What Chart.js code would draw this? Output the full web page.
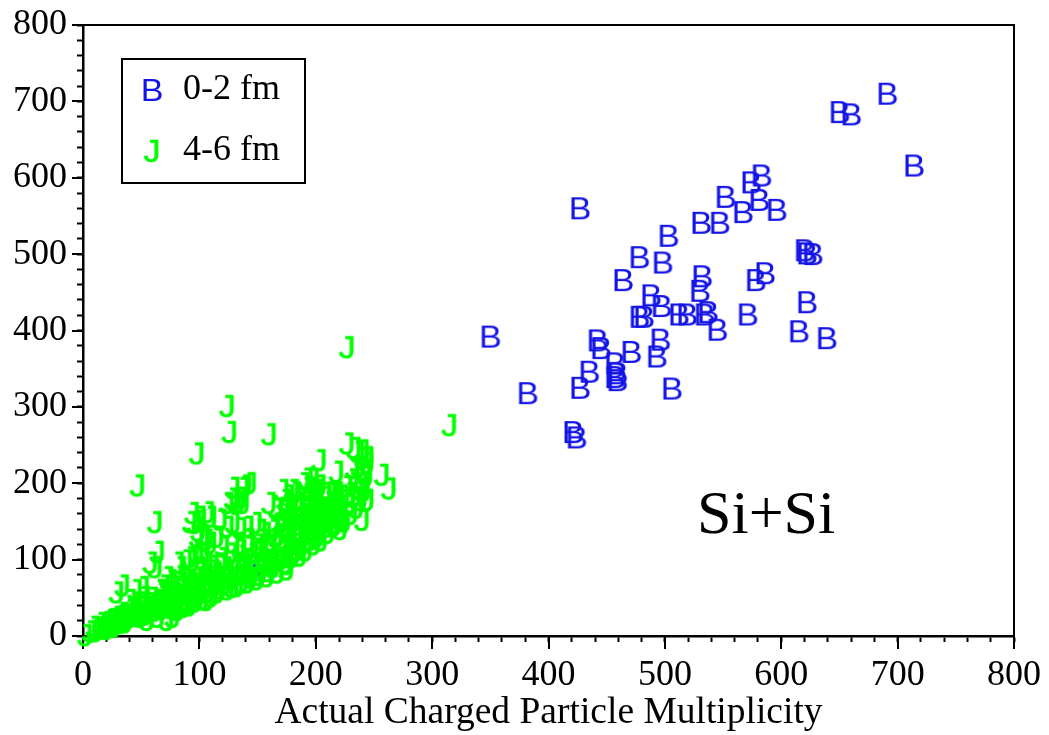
<!DOCTYPE html>
<html>
<head>
<meta charset="utf-8">
<script src="https://cdn.jsdelivr.net/npm/chart.js@4.4.0/dist/chart.umd.min.js"></script>
<style>
  html, body { margin: 0; padding: 0; background: #fff; }
  #wrap { width: 1049px; height: 735px; }
</style>
</head>
<body>
<div id="wrap"><canvas id="multChart"></canvas></div>
<script>
const seriesNames = ['0-2 fm', '4-6 fm'];
const markerLetters = ['B', 'J'];
const axisTicks = [0, 100, 200, 300, 400, 500, 600, 700, 800];
const xTitle = 'Actual Charged Particle Multiplicity';
const reactionLabel = 'Si+Si';

// [actual multiplicity, reconstructed] for impact parameter 0-2 fm
const zeroTwo = [
  [350,392],[382,318],[427,560],[427,325],[421,267],[424,260],[442,387],[445,377],[435,346],
  [457,357],[459,344],[457,339],[459,335],[471,372],[493,366],[496,388],[506,324],[464,466],
  [478,496],[498,489],[503,524],[488,446],[497,432],[478,418],[482,418],[512,421],[519,421],
  [534,421],[537,424],[545,401],[532,471],[530,452],[571,421],[578,466],[586,475],[622,437],
  [615,399],[639,390],[622,501],[627,500],[620,505],[531,541],[547,541],[552,575],[567,555],
  [581,571],[596,558],[574,594],[583,603],[691,710],[650,686],[660,683],[714,616],[145,92]
];

// same for 4-6 fm
const fourSix = [
  [227,378],[315,276],[124,301],[126,267],[160,264],[98,239],[47,197],[62,149],[64,110],
  [129,194],[137,194],[143,200],[139,197],[135,181],[130,178],[137,174],[171,191],[175,178],[179,168],
  [227,252],[233,246],[236,241],[240,243],[244,234],[240,233],[244,227],[232,220],[242,217],[203,230],
  [218,215],[192,206],[197,206],[257,211],[263,193],[236,193],[244,178],[240,152],[180,191],[201,191],
  [212,188],[219,184],[201,180],[196,178],[192,175],[173,178],[179,171],[175,165],[214,174],[209,167],
  [210,161],[216,162],[220,156],[169,148],[173,143],[184,152],[189,155],[195,152],[201,149],[203,143],
  [197,139],[206,154],
  [128,180],[133,175],[124,174],[94,161],[100,156],[107,162],[109,156],[118,152],[124,143],[129,148],
  [135,141],[141,143],[148,148],[152,139],[176,184],[182,188],[186,181],[192,194],[195,180],[197,174],
  [160,174],[166,167],[173,165],[178,161],[184,168],[191,165],[195,155],[201,162],
  [98,130],[103,126],[109,122],[115,130],[120,117],[129,122],[135,113],[142,117],[149,110],[154,126],
  [160,117],[166,130],[172,117],[178,122],[184,113],[189,135],[195,126],[201,130],
  [94,99],[100,90],[106,95],[112,86],[118,95],[124,86],[129,99],[135,90],[152,90],[158,99],
  [163,95],[169,103],[175,103],[180,108],[186,105],
  [58,96],[62,90],[34,66],[29,57],[45,60],[51,64],[88,99],[92,103],[98,108],[103,109],
  [99,138],[92,149],[96,148],[81,96],[83,90],
  [72,77],[75,73],[69,66],[66,60],[77,64],[83,69],[86,62],[92,73],[98,77],[103,86],
  [105,64],[100,56],[94,51],[89,47],
  [40,47],[46,43],[52,51],[58,43],[64,47],[69,38],[75,43],[81,34],[86,38],[40,34],
  [34,30],[29,25],[23,21],[15,17],[9,12],[6,6],[2,1],[12,8],[17,12],[26,12],
  [32,17],[49,25],[55,21],[64,25],[72,21],[77,25],
  [100,151],[103,132],[106,126],
  [163,139],[172,143],[178,135],[186,139],[192,143],[197,135],[203,139],[209,143],[215,148],[221,152],
  [172,168],[178,165],[192,168],[195,161],[201,155],[206,161],[212,165],[215,174],[218,155],[222,161],
  [189,200],[195,194],[199,191],[203,197],[208,187],[214,187],[218,188],[238,178],[229,187],
  [66,60],[72,57],[77,64],[83,61],[89,70],[94,64],[100,74],[106,68],[112,78],[118,73],
  [124,83],[129,77],[135,87],[141,81],[146,91],[152,86],[158,96],[163,90],[169,100],[175,94],[180,104],
  [55,38],[64,44],[72,39],[81,48],[89,43],[98,52],[106,47],[115,57],[124,61],[132,65],
  [141,70],[149,74],[158,78],[167,83],[175,87],
  [10,6],[14,10],[18,14],[20,9],[24,16],[28,20],[22,13],[30,24],[35,22],[38,28],
  [42,30],[45,35],[48,32],[52,38],[55,33],
  [20,18],[25,22],[27,15],[31,20],[33,27],[36,18],[39,24],[41,37],[43,26],[47,29],
  [50,44],[53,28],[57,36],[59,50],[61,33],[63,40],[67,35],[68,52],[70,45],[74,50],
  [76,36],[79,56],[80,42],[84,53],[85,44],[87,66],[90,55],[91,40],[93,60],[96,45],
  [97,69],[101,62],[102,48],[104,80],[107,58],[108,72],[110,52],[111,92],[113,66],[114,83],
  [117,62],[119,102],[121,68],[122,90],[125,74],[127,108],[128,64],[131,95],[133,80],[134,118],
  [136,70],[138,100],[139,84],[142,126],[144,76],[145,108],[147,95],[150,120],[151,80],[153,112],
  [155,100],[156,135],[159,85],[161,125],[162,106],[164,145],[167,98],[168,133],[170,112],[171,150],
  [174,96],[176,138],[177,118],[179,155],[181,110],[183,128],[185,146],[187,118],[188,160],[190,132],
  [191,112],[193,150],[194,170],[196,140],[198,120],[199,160],[200,178],[202,145],[204,125],[205,168],
  [207,150],[208,182],[210,135],[211,175],[213,158],[216,145],[217,182],[219,168],[221,140],[223,178],
  [224,150],[226,196],[228,172],[230,160],[231,205],[233,182],[235,168],[237,222],[239,200],[241,190],
  [243,210]
];

const serif = '"Liberation Serif", "Times New Roman", serif';

// letter markers like the old plotting program, a bit wide
function letterMarker(ch, color, weight) {
  const c = document.createElement('canvas');
  c.width = 44; c.height = 40;
  const g = c.getContext('2d');
  g.fillStyle = color;
  g.strokeStyle = color;
  g.lineWidth = weight;
  g.lineJoin = 'round';
  g.font = '31px "Liberation Sans", Arial, sans-serif';
  g.textAlign = 'center';
  g.textBaseline = 'alphabetic';
  g.translate(22, 20 + 31 * 0.69 / 2);
  g.scale(1.1, 1);
  g.fillText(ch, 0, 0);
  if (weight > 0) g.strokeText(ch, 0, 0);
  return c;
}

const markerB = letterMarker(markerLetters[0], '#1414e6', 0);
const markerJ = letterMarker(markerLetters[1], '#00ff00', 0.6);

const frameAndLegend = {
  id: 'frameAndLegend',
  beforeDatasetsDraw(chart) {
    const { ctx, chartArea: a, scales } = chart;
    ctx.save();
    ctx.strokeStyle = '#000';
    ctx.lineWidth = 2;
    ctx.beginPath();
    axisTicks.forEach(v => {
      const py = Math.round(scales.y.getPixelForValue(v));
      ctx.moveTo(a.left - 11, py); ctx.lineTo(a.left, py);
      const px = Math.round(scales.x.getPixelForValue(v));
      ctx.moveTo(px, a.bottom); ctx.lineTo(px, a.bottom + 13);
    });
    // top and right frame
    ctx.moveTo(a.left, a.top); ctx.lineTo(a.right, a.top); ctx.lineTo(a.right, a.bottom);
    ctx.stroke();
    ctx.restore();
  },
  afterDatasetsDraw(chart) {
    const { ctx, chartArea: a, scales } = chart;
    ctx.save();
    const left = a.left + 39, top = a.top + 34;
    ctx.strokeStyle = '#000';
    ctx.lineWidth = 2;
    ctx.strokeRect(left, top, 183, 124);
    chart.data.datasets.forEach((ds, i) => {
      const cy = top + 31 + i * 61;
      const img = ds.pointStyle;
      ctx.drawImage(img, left + 30 - img.width / 2, cy - img.height / 2);
      ctx.fillStyle = '#000';
      ctx.font = '36px ' + serif;
      ctx.textAlign = 'left';
      ctx.textBaseline = 'middle';
      ctx.fillText(ds.label, left + 61, cy);
    });
    ctx.font = '62px ' + serif;
    ctx.textAlign = 'center';
    ctx.textBaseline = 'alphabetic';
    ctx.fillStyle = '#000';
    ctx.fillText(reactionLabel, scales.x.getPixelForValue(587), scales.y.getPixelForValue(135));
    ctx.restore();
  }
};

const tickOpts = {
  stepSize: 20,
  autoSkip: false,
  maxRotation: 0,
  color: '#000',
  font: { family: serif, size: 36 },
  callback: v => axisTicks.includes(v) ? String(v) : ''
};

new Chart(document.getElementById('multChart'), {
  type: 'scatter',
  data: {
    datasets: [{
      label: seriesNames[0],
      data: zeroTwo.map(p => ({ x: p[0], y: p[1] })),
      pointStyle: markerB,
      pointRadius: 8,
      clip: false,
      order: 1
    }, {
      label: seriesNames[1],
      data: fourSix.map(p => ({ x: p[0], y: p[1] })),
      pointStyle: markerJ,
      pointRadius: 8,
      clip: false,
      order: 0
    }]
  },
  options: {
    responsive: true,
    maintainAspectRatio: false,
    animation: false,
    events: [],
    layout: { padding: { top: 25, right: 35, left: 0, bottom: 0 } },
    plugins: { legend: { display: false }, tooltip: { enabled: false } },
    scales: {
      x: {
        type: 'linear', min: 0, max: 800,
        afterFit: s => { s.height = 99; s.paddingLeft = 0; s.paddingRight = 0; },
        ticks: { ...tickOpts, padding: 12 },
        grid: { drawOnChartArea: false, tickLength: 6, tickWidth: 2, tickColor: '#000' },
        border: { color: '#000', width: 2.5 },
        title: {
          display: true, text: xTitle, color: '#000',
          font: { family: serif, size: 37.5, lineHeight: 1 },
          padding: { top: 0, bottom: 3 }
        }
      },
      y: {
        type: 'linear', min: 0, max: 800,
        afterFit: s => { s.width = 83; s.paddingTop = 0; s.paddingBottom = 0; },
        ticks: { ...tickOpts, padding: 10 },
        grid: { drawOnChartArea: false, tickLength: 6, tickWidth: 2, tickColor: '#000' },
        border: { color: '#000', width: 2.5 }
      }
    }
  },
  plugins: [frameAndLegend]
});
</script>
</body>
</html>
